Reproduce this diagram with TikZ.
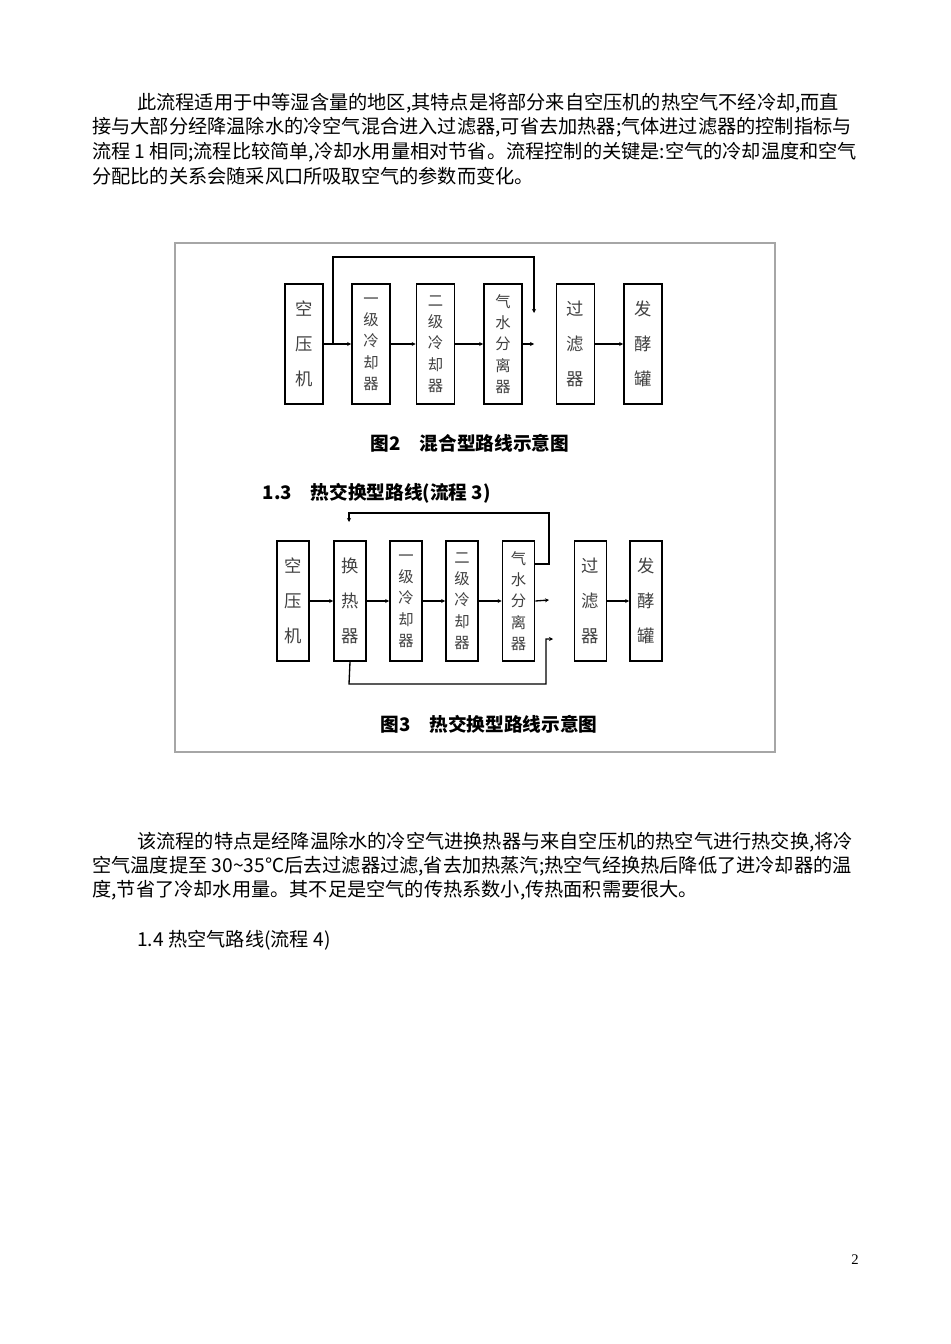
\documentclass[tikz,border=0pt]{standalone}
\usepackage{fontspec}
\setmainfont{Liberation Serif}
\newfontfamily\cjk{Noto Sans CJK SC}
\usetikzlibrary{arrows.meta}
\begin{document}
\begin{tikzpicture}[x=0.75pt,y=-0.75pt,
  bx/.style={draw,line width=1.3pt,minimum width=28.5pt,minimum height=90pt,inner sep=0pt,font=\cjk\fontsize{13}{20}\selectfont,align=center,text=black!75},
  bxf/.style={bx,font=\cjk\fontsize{11.5}{16}\selectfont},
  ln/.style={line width=1pt},
  ar/.style={line width=1pt,-{Stealth[length=3pt,width=3pt]}},
  para/.style={anchor=west,inner sep=0pt,font=\cjk\fontsize{14.4}{15}\selectfont}]
\useasboundingbox (0,0) rectangle (950,1344);
\node[para] (p1) at (137,103) {此流程适用于中等湿含量的地区,其特点是将部分来自空压机的热空气不经冷却,而直};
\node[para] (p2) at (92,127) {接与大部分经降温除水的冷空气混合进入过滤器,可省去加热器;气体进过滤器的控制指标与};
\node[para] (p3) at (92,152) {流程 1 相同;流程比较简单,冷却水用量相对节省。流程控制的关键是:空气的冷却温度和空气};
\node[para] (p4) at (92,176) {分配比的关系会随采风口所吸取空气的参数而变化。};
\draw[gray!70,line width=0.8pt] (175,243) rectangle (775,752);
% fig 2
\foreach \n/\x/\t in {a/304/空\\[6pt]压\\[6pt]机, e/575.5/过\\[6pt]滤\\[6pt]器, f/643/发\\[6pt]酵\\[6pt]罐}
  \node[bx] (\n) at (\x,344) {\t};
\foreach \n/\x/\t in {b/371/一\\级\\冷\\却\\器, c/435.5/二\\级\\冷\\却\\器, d/503/气\\水\\分\\离\\器}
  \node[bxf] (\n) at (\x,344) {\t};
\draw[ar] (a.east) -- (b.west);
\draw[ar] (b.east) -- (c.west);
\draw[ar] (c.east) -- (d.west);
\coordinate (m2) at (534,344);
\draw[ar] (d.east) -- (m2);
\draw[ar] (e.east) -- (f.west);
\coordinate (t2) at (534,313);
\draw[ar] (333,344) -- (333,257) -- (534,257) -- (t2);
\node[font=\cjk\bfseries\fontsize{14}{16}\selectfont] (cap2) at (470,443) {图2\quad 混合型路线示意图};
\node[anchor=west,font=\cjk\bfseries\fontsize{14}{16}\selectfont] (h13) at (258,493) {1.3\quad 热交换型路线(流程 3)};
% fig 3
\foreach \n/\x/\t in {A/293/空\\[6pt]压\\[6pt]机, B/350/换\\[6pt]热\\[6pt]器, F/590.5/过\\[6pt]滤\\[6pt]器, G/646/发\\[6pt]酵\\[6pt]罐}
  \node[bx,minimum width=24pt] (\n) at (\x,601) {\t};
\foreach \n/\x/\t in {C/406/一\\级\\冷\\却\\器, D/462/二\\级\\冷\\却\\器, E/518.5/气\\水\\分\\离\\器}
  \node[bxf,minimum width=24pt] (\n) at (\x,601) {\t};
\draw[ar] (A.east) -- (B.west);
\draw[ar] (B.east) -- (C.west);
\draw[ar] (C.east) -- (D.west);
\draw[ar] (D.east) -- (E.west);
\draw[ar] (F.east) -- (G.west);
\coordinate (m3) at (549,600);
\draw[ar] (E.east) -- (m3);
\coordinate (t3) at (349,522);
\draw[ar] (535,564) -- (549,564) -- (549,513) -- (349,513) -- (t3);
\coordinate (b3) at (553,639);
\draw[ar] (B.south) -- (349,684) -- (546,684) -- (546,639) -- (b3);
\node[font=\cjk\bfseries\fontsize{14}{16}\selectfont] (cap3) at (489,724) {图3\quad 热交换型路线示意图};
\node[para] (q1) at (137,842) {该流程的特点是经降温除水的冷空气进换热器与来自空压机的热空气进行热交换,将冷};
\node[para] (q2) at (92,866) {空气温度提至 30\textasciitilde 35℃后去过滤器过滤,省去加热蒸汽;热空气经换热后降低了进冷却器的温};
\node[para] (q3) at (92,890) {度,节省了冷却水用量。其不足是空气的传热系数小,传热面积需要很大。};
\node[para] (q4) at (137,940) {1.4 热空气路线(流程 4)};
\node[font=\fontsize{11}{13}\selectfont] (pg) at (855,1260) {2};
\end{tikzpicture}
\end{document}
